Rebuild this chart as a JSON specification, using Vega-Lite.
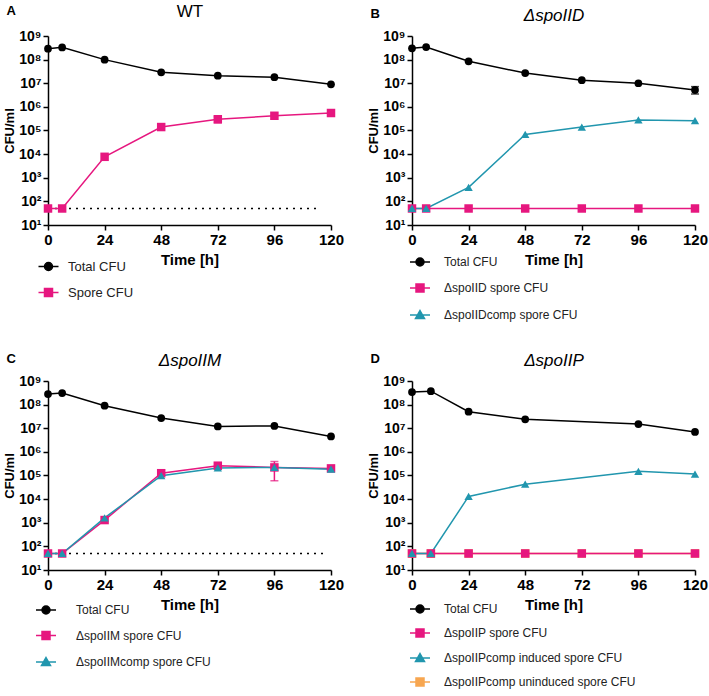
{
  "$schema": "https://vega.github.io/schema/vega-lite/v6.json",
  "padding": {"left": 3, "top": 2, "right": 2, "bottom": 2},
  "columns": 2,
  "spacing": {"row": 29, "column": 23},
  "resolve": {"scale": {"color": "independent"}},
  "datasets": {
    "lod": [{"limit": 50}],
    "A": [
      {"t": 0, "cfu": 290000000, "series": "Total CFU"},
      {"t": 6, "cfu": 330000000, "series": "Total CFU"},
      {"t": 24, "cfu": 100000000, "series": "Total CFU"},
      {"t": 48, "cfu": 29000000, "series": "Total CFU"},
      {"t": 72, "cfu": 21000000, "series": "Total CFU"},
      {"t": 96, "cfu": 18000000, "series": "Total CFU"},
      {"t": 120, "cfu": 9000000, "series": "Total CFU"},
      {"t": 0, "cfu": 50, "series": "Spore CFU"},
      {"t": 6, "cfu": 50, "series": "Spore CFU"},
      {"t": 24, "cfu": 7700, "series": "Spore CFU"},
      {"t": 48, "cfu": 140000, "series": "Spore CFU"},
      {"t": 72, "cfu": 300000, "series": "Spore CFU"},
      {"t": 96, "cfu": 420000, "series": "Spore CFU"},
      {"t": 120, "cfu": 550000, "series": "Spore CFU"}
    ],
    "Aerr": [{"t": 72, "lo": 210000, "hi": 380000, "series": "Spore CFU"}],
    "B": [
      {"t": 0, "cfu": 300000000, "series": "Total CFU"},
      {"t": 6, "cfu": 340000000, "series": "Total CFU"},
      {"t": 24, "cfu": 85000000, "series": "Total CFU"},
      {"t": 48, "cfu": 27000000, "series": "Total CFU"},
      {"t": 72, "cfu": 13500000, "series": "Total CFU"},
      {"t": 96, "cfu": 10000000, "series": "Total CFU"},
      {"t": 120, "cfu": 5200000, "series": "Total CFU"},
      {"t": 0, "cfu": 50, "series": "ΔspoIID spore CFU"},
      {"t": 6, "cfu": 50, "series": "ΔspoIID spore CFU"},
      {"t": 24, "cfu": 50, "series": "ΔspoIID spore CFU"},
      {"t": 48, "cfu": 50, "series": "ΔspoIID spore CFU"},
      {"t": 72, "cfu": 50, "series": "ΔspoIID spore CFU"},
      {"t": 96, "cfu": 50, "series": "ΔspoIID spore CFU"},
      {"t": 120, "cfu": 50, "series": "ΔspoIID spore CFU"},
      {"t": 0, "cfu": 50, "series": "ΔspoIIDcomp spore CFU"},
      {"t": 6, "cfu": 50, "series": "ΔspoIIDcomp spore CFU"},
      {"t": 24, "cfu": 390, "series": "ΔspoIIDcomp spore CFU"},
      {"t": 48, "cfu": 68000, "series": "ΔspoIIDcomp spore CFU"},
      {"t": 72, "cfu": 140000, "series": "ΔspoIIDcomp spore CFU"},
      {"t": 96, "cfu": 280000, "series": "ΔspoIIDcomp spore CFU"},
      {"t": 120, "cfu": 260000, "series": "ΔspoIIDcomp spore CFU"}
    ],
    "Berr": [{"t": 120, "lo": 3500000, "hi": 7200000, "series": "Total CFU"}],
    "C": [
      {"t": 0, "cfu": 280000000, "series": "Total CFU"},
      {"t": 6, "cfu": 310000000, "series": "Total CFU"},
      {"t": 24, "cfu": 90000000, "series": "Total CFU"},
      {"t": 48, "cfu": 27000000, "series": "Total CFU"},
      {"t": 72, "cfu": 12000000, "series": "Total CFU"},
      {"t": 96, "cfu": 12500000, "series": "Total CFU"},
      {"t": 120, "cfu": 4500000, "series": "Total CFU"},
      {"t": 0, "cfu": 50, "series": "ΔspoIIM spore CFU"},
      {"t": 6, "cfu": 50, "series": "ΔspoIIM spore CFU"},
      {"t": 24, "cfu": 1300, "series": "ΔspoIIM spore CFU"},
      {"t": 48, "cfu": 125000, "series": "ΔspoIIM spore CFU"},
      {"t": 72, "cfu": 260000, "series": "ΔspoIIM spore CFU"},
      {"t": 96, "cfu": 220000, "series": "ΔspoIIM spore CFU"},
      {"t": 120, "cfu": 200000, "series": "ΔspoIIM spore CFU"},
      {"t": 0, "cfu": 50, "series": "ΔspoIIMcomp spore CFU"},
      {"t": 6, "cfu": 50, "series": "ΔspoIIMcomp spore CFU"},
      {"t": 24, "cfu": 1600, "series": "ΔspoIIMcomp spore CFU"},
      {"t": 48, "cfu": 98000, "series": "ΔspoIIMcomp spore CFU"},
      {"t": 72, "cfu": 210000, "series": "ΔspoIIMcomp spore CFU"},
      {"t": 96, "cfu": 220000, "series": "ΔspoIIMcomp spore CFU"},
      {"t": 120, "cfu": 185000, "series": "ΔspoIIMcomp spore CFU"}
    ],
    "Cerr": [{"t": 96, "lo": 60000, "hi": 390000, "series": "ΔspoIIM spore CFU"}],
    "D": [
      {"t": 0, "cfu": 50, "series": "ΔspoIIPcomp uninduced spore CFU"},
      {"t": 8, "cfu": 50, "series": "ΔspoIIPcomp uninduced spore CFU"},
      {"t": 24, "cfu": 50, "series": "ΔspoIIPcomp uninduced spore CFU"},
      {"t": 48, "cfu": 50, "series": "ΔspoIIPcomp uninduced spore CFU"},
      {"t": 72, "cfu": 50, "series": "ΔspoIIPcomp uninduced spore CFU"},
      {"t": 96, "cfu": 50, "series": "ΔspoIIPcomp uninduced spore CFU"},
      {"t": 120, "cfu": 50, "series": "ΔspoIIPcomp uninduced spore CFU"},
      {"t": 0, "cfu": 340000000, "series": "Total CFU"},
      {"t": 8, "cfu": 370000000, "series": "Total CFU"},
      {"t": 24, "cfu": 50000000, "series": "Total CFU"},
      {"t": 48, "cfu": 24000000, "series": "Total CFU"},
      {"t": 96, "cfu": 15000000, "series": "Total CFU"},
      {"t": 120, "cfu": 7000000, "series": "Total CFU"},
      {"t": 0, "cfu": 50, "series": "ΔspoIIP spore CFU"},
      {"t": 8, "cfu": 50, "series": "ΔspoIIP spore CFU"},
      {"t": 24, "cfu": 50, "series": "ΔspoIIP spore CFU"},
      {"t": 48, "cfu": 50, "series": "ΔspoIIP spore CFU"},
      {"t": 72, "cfu": 50, "series": "ΔspoIIP spore CFU"},
      {"t": 96, "cfu": 50, "series": "ΔspoIIP spore CFU"},
      {"t": 120, "cfu": 50, "series": "ΔspoIIP spore CFU"},
      {"t": 0, "cfu": 50, "series": "ΔspoIIPcomp induced spore CFU"},
      {"t": 8, "cfu": 50, "series": "ΔspoIIPcomp induced spore CFU"},
      {"t": 24, "cfu": 13000, "series": "ΔspoIIPcomp induced spore CFU"},
      {"t": 48, "cfu": 43000, "series": "ΔspoIIPcomp induced spore CFU"},
      {"t": 96, "cfu": 150000, "series": "ΔspoIIPcomp induced spore CFU"},
      {"t": 120, "cfu": 115000, "series": "ΔspoIIPcomp induced spore CFU"}
    ]
  },
  "concat": [
    {
      "width": 283, "height": 189,
      "title": {"text": "A", "anchor": "start", "frame": "bounds", "baseline": "middle", "dy": 22, "dx": 3, "offset": 0},
      "data": {"name": "A"},
      "resolve": {"axis": {"x": "independent"}},
      "layer": [
        {"data": {"name": "lod"}, "mark": {"type": "rule", "strokeDash": [2, 5], "strokeWidth": 1.5, "color": "#000000"},
         "encoding": {"x": {"datum": 0, "type": "quantitative", "scale": {"domain": [0, 120], "nice": false, "zero": false}, "axis": null}, "x2": {"datum": 114},
           "y": {"field": "limit", "type": "quantitative", "scale": {"type": "log", "domain": [10, 1000000000], "nice": false}, "axis": {"values": [10, 100, 1000, 10000, 100000, 1000000, 10000000, 100000000, 1000000000], "labelExpr": "'10' + ['⁰','¹','²','³','⁴','⁵','⁶','⁷','⁸','⁹'][round(log(datum.value)/LN10)]", "title": "CFU/ml"}}}},
        {"data": {"name": "Aerr"}, "mark": {"type": "errorbar", "ticks": true, "thickness": 1.5, "size": 8, "color": "#E6177F"},
         "encoding": {"x": {"field": "t", "type": "quantitative", "scale": {"domain": [0, 120], "nice": false, "zero": false}, "axis": null},
           "y": {"field": "lo", "type": "quantitative", "scale": {"type": "log", "domain": [10, 1000000000], "nice": false}, "axis": {"values": [10, 100, 1000, 10000, 100000, 1000000, 10000000, 100000000, 1000000000], "labelExpr": "'10' + ['⁰','¹','²','³','⁴','⁵','⁶','⁷','⁸','⁹'][round(log(datum.value)/LN10)]", "title": "CFU/ml"}}, "y2": {"field": "hi"}}},
        {"transform": [{"filter": "datum.series == 'Total CFU'"}], "mark": {"type": "line", "strokeWidth": 1.5, "color": "#000000"},
         "encoding": {"x": {"field": "t", "type": "quantitative", "scale": {"domain": [0, 120], "nice": false, "zero": false}, "axis": {"values": [0, 24, 48, 72, 96, 120], "title": "Time [h]"}},
           "y": {"field": "cfu", "type": "quantitative", "scale": {"type": "log", "domain": [10, 1000000000], "nice": false}, "axis": {"values": [10, 100, 1000, 10000, 100000, 1000000, 10000000, 100000000, 1000000000], "labelExpr": "'10' + ['⁰','¹','²','³','⁴','⁵','⁶','⁷','⁸','⁹'][round(log(datum.value)/LN10)]", "title": "CFU/ml"}}}},
        {"transform": [{"filter": "datum.series == 'Spore CFU'"}], "mark": {"type": "line", "strokeWidth": 1.5, "color": "#E6177F"},
         "encoding": {"x": {"field": "t", "type": "quantitative", "scale": {"domain": [0, 120], "nice": false, "zero": false}, "axis": null},
           "y": {"field": "cfu", "type": "quantitative", "scale": {"type": "log", "domain": [10, 1000000000], "nice": false}, "axis": {"values": [10, 100, 1000, 10000, 100000, 1000000, 10000000, 100000000, 1000000000], "labelExpr": "'10' + ['⁰','¹','²','³','⁴','⁵','⁶','⁷','⁸','⁹'][round(log(datum.value)/LN10)]", "title": "CFU/ml"}}}},
        {"transform": [{"filter": "datum.series == 'Total CFU'"}], "mark": {"type": "point", "filled": true, "opacity": 1, "size": 60, "shape": "circle"},
         "encoding": {"x": {"field": "t", "type": "quantitative", "scale": {"domain": [0, 120], "nice": false, "zero": false}, "axis": {"orient": "top", "title": "WT", "labels": false, "ticks": false, "domain": false, "titleFontSize": 17, "titleFontWeight": "normal", "titlePadding": 16}},
           "y": {"field": "cfu", "type": "quantitative", "scale": {"type": "log", "domain": [10, 1000000000], "nice": false}, "axis": {"values": [10, 100, 1000, 10000, 100000, 1000000, 10000000, 100000000, 1000000000], "labelExpr": "'10' + ['⁰','¹','²','³','⁴','⁵','⁶','⁷','⁸','⁹'][round(log(datum.value)/LN10)]", "title": "CFU/ml"}},
           "color": {"field": "series", "type": "nominal", "scale": {"domain": ["Total CFU", "Spore CFU"], "range": ["#000000", "#E6177F"]},
             "legend": {"title": null, "orient": "none", "legendX": -6, "legendY": 224, "labelOffset": 13, "labelFontSize": 13, "rowPadding": 11,
               "symbolSize": 100, "symbolStrokeWidth": 1.5,
               "symbolType": {"expr": "datum.value == 'Total CFU' ? 'M-2,0H2M-0.8,0A0.8,0.8,0,1,1,0.8,0A0.8,0.8,0,1,1,-0.8,0Z' : 'M-2,0H2M-0.8,-0.8H0.8V0.8H-0.8Z'"},
               "symbolStrokeColor": {"expr": "datum.value == 'Total CFU' ? '#000000' : '#E6177F'"}}}}},
        {"transform": [{"filter": "datum.series == 'Spore CFU'"}], "mark": {"type": "point", "filled": true, "opacity": 1, "size": 72, "shape": "square", "color": "#E6177F"},
         "encoding": {"x": {"field": "t", "type": "quantitative", "scale": {"domain": [0, 120], "nice": false, "zero": false}, "axis": null},
           "y": {"field": "cfu", "type": "quantitative", "scale": {"type": "log", "domain": [10, 1000000000], "nice": false}, "axis": {"values": [10, 100, 1000, 10000, 100000, 1000000, 10000000, 100000000, 1000000000], "labelExpr": "'10' + ['⁰','¹','²','³','⁴','⁵','⁶','⁷','⁸','⁹'][round(log(datum.value)/LN10)]", "title": "CFU/ml"}}}}
      ]
    },
    {
      "width": 283, "height": 189,
      "title": {"text": "B", "anchor": "start", "frame": "bounds", "baseline": "middle", "dy": 21, "dx": 3, "offset": 0},
      "data": {"name": "B"},
      "resolve": {"axis": {"x": "independent"}},
      "layer": [
        {"data": {"name": "Berr"}, "mark": {"type": "errorbar", "ticks": true, "thickness": 1.5, "size": 8, "color": "#000000"},
         "encoding": {"x": {"field": "t", "type": "quantitative", "scale": {"domain": [0, 120], "nice": false, "zero": false}, "axis": null},
           "y": {"field": "lo", "type": "quantitative", "scale": {"type": "log", "domain": [10, 1000000000], "nice": false}, "axis": {"values": [10, 100, 1000, 10000, 100000, 1000000, 10000000, 100000000, 1000000000], "labelExpr": "'10' + ['⁰','¹','²','³','⁴','⁵','⁶','⁷','⁸','⁹'][round(log(datum.value)/LN10)]", "title": "CFU/ml"}}, "y2": {"field": "hi"}}},
        {"transform": [{"filter": "datum.series == 'Total CFU'"}], "mark": {"type": "line", "strokeWidth": 1.5, "color": "#000000"},
         "encoding": {"x": {"field": "t", "type": "quantitative", "scale": {"domain": [0, 120], "nice": false, "zero": false}, "axis": {"values": [0, 24, 48, 72, 96, 120], "title": "Time [h]"}},
           "y": {"field": "cfu", "type": "quantitative", "scale": {"type": "log", "domain": [10, 1000000000], "nice": false}, "axis": {"values": [10, 100, 1000, 10000, 100000, 1000000, 10000000, 100000000, 1000000000], "labelExpr": "'10' + ['⁰','¹','²','³','⁴','⁵','⁶','⁷','⁸','⁹'][round(log(datum.value)/LN10)]", "title": "CFU/ml"}}}},
        {"transform": [{"filter": "datum.series == 'ΔspoIID spore CFU'"}], "mark": {"type": "line", "strokeWidth": 1.5, "color": "#E6177F"},
         "encoding": {"x": {"field": "t", "type": "quantitative", "scale": {"domain": [0, 120], "nice": false, "zero": false}, "axis": null},
           "y": {"field": "cfu", "type": "quantitative", "scale": {"type": "log", "domain": [10, 1000000000], "nice": false}, "axis": {"values": [10, 100, 1000, 10000, 100000, 1000000, 10000000, 100000000, 1000000000], "labelExpr": "'10' + ['⁰','¹','²','³','⁴','⁵','⁶','⁷','⁸','⁹'][round(log(datum.value)/LN10)]", "title": "CFU/ml"}}}},
        {"transform": [{"filter": "datum.series == 'ΔspoIIDcomp spore CFU'"}], "mark": {"type": "line", "strokeWidth": 1.5, "color": "#2196AE"},
         "encoding": {"x": {"field": "t", "type": "quantitative", "scale": {"domain": [0, 120], "nice": false, "zero": false}, "axis": null},
           "y": {"field": "cfu", "type": "quantitative", "scale": {"type": "log", "domain": [10, 1000000000], "nice": false}, "axis": {"values": [10, 100, 1000, 10000, 100000, 1000000, 10000000, 100000000, 1000000000], "labelExpr": "'10' + ['⁰','¹','²','³','⁴','⁵','⁶','⁷','⁸','⁹'][round(log(datum.value)/LN10)]", "title": "CFU/ml"}}}},
        {"transform": [{"filter": "datum.series == 'Total CFU'"}], "mark": {"type": "point", "filled": true, "opacity": 1, "size": 60, "shape": "circle"},
         "encoding": {"x": {"field": "t", "type": "quantitative", "scale": {"domain": [0, 120], "nice": false, "zero": false}, "axis": {"orient": "top", "title": "ΔspoIID", "labels": false, "ticks": false, "domain": false, "titleFontSize": 17, "titleFontWeight": "normal", "titleFontStyle": "italic", "titlePadding": 12}},
           "y": {"field": "cfu", "type": "quantitative", "scale": {"type": "log", "domain": [10, 1000000000], "nice": false}, "axis": {"values": [10, 100, 1000, 10000, 100000, 1000000, 10000000, 100000000, 1000000000], "labelExpr": "'10' + ['⁰','¹','²','³','⁴','⁵','⁶','⁷','⁸','⁹'][round(log(datum.value)/LN10)]", "title": "CFU/ml"}},
           "color": {"field": "series", "type": "nominal", "scale": {"domain": ["Total CFU", "ΔspoIID spore CFU", "ΔspoIIDcomp spore CFU"], "range": ["#000000", "#E6177F", "#2196AE"]},
             "legend": {"title": null, "orient": "none", "legendX": 2, "legendY": 220, "labelOffset": 18, "labelFontSize": 12, "rowPadding": 12,
               "symbolSize": 100, "symbolStrokeWidth": 1.5,
               "symbolType": {"expr": "datum.value == 'Total CFU' ? 'M-2,0H2M-0.8,0A0.8,0.8,0,1,1,0.8,0A0.8,0.8,0,1,1,-0.8,0Z' : datum.value == 'ΔspoIID spore CFU' ? 'M-2,0H2M-0.8,-0.8H0.8V0.8H-0.8Z' : 'M-2,0H2M0,-0.9L0.9,0.7H-0.9Z'"},
               "symbolStrokeColor": {"expr": "datum.value == 'Total CFU' ? '#000000' : datum.value == 'ΔspoIID spore CFU' ? '#E6177F' : '#2196AE'"}}}}},
        {"transform": [{"filter": "datum.series == 'ΔspoIID spore CFU'"}], "mark": {"type": "point", "filled": true, "opacity": 1, "size": 72, "shape": "square", "color": "#E6177F"},
         "encoding": {"x": {"field": "t", "type": "quantitative", "scale": {"domain": [0, 120], "nice": false, "zero": false}, "axis": null},
           "y": {"field": "cfu", "type": "quantitative", "scale": {"type": "log", "domain": [10, 1000000000], "nice": false}, "axis": {"values": [10, 100, 1000, 10000, 100000, 1000000, 10000000, 100000000, 1000000000], "labelExpr": "'10' + ['⁰','¹','²','³','⁴','⁵','⁶','⁷','⁸','⁹'][round(log(datum.value)/LN10)]", "title": "CFU/ml"}}}},
        {"transform": [{"filter": "datum.series == 'ΔspoIIDcomp spore CFU'"}], "mark": {"type": "point", "filled": true, "opacity": 1, "size": 70, "shape": "triangle-up", "color": "#2196AE"},
         "encoding": {"x": {"field": "t", "type": "quantitative", "scale": {"domain": [0, 120], "nice": false, "zero": false}, "axis": null},
           "y": {"field": "cfu", "type": "quantitative", "scale": {"type": "log", "domain": [10, 1000000000], "nice": false}, "axis": {"values": [10, 100, 1000, 10000, 100000, 1000000, 10000000, 100000000, 1000000000], "labelExpr": "'10' + ['⁰','¹','²','³','⁴','⁵','⁶','⁷','⁸','⁹'][round(log(datum.value)/LN10)]", "title": "CFU/ml"}}}}
      ]
    },
    {
      "width": 283, "height": 189,
      "title": {"text": "C", "anchor": "start", "frame": "bounds", "baseline": "middle", "dy": 21, "dx": 3, "offset": 0},
      "data": {"name": "C"},
      "resolve": {"axis": {"x": "independent"}},
      "layer": [
        {"data": {"name": "lod"}, "mark": {"type": "rule", "strokeDash": [2, 5], "strokeWidth": 1.5, "color": "#000000"},
         "encoding": {"x": {"datum": 0, "type": "quantitative", "scale": {"domain": [0, 120], "nice": false, "zero": false}, "axis": null}, "x2": {"datum": 118},
           "y": {"field": "limit", "type": "quantitative", "scale": {"type": "log", "domain": [10, 1000000000], "nice": false}, "axis": {"values": [10, 100, 1000, 10000, 100000, 1000000, 10000000, 100000000, 1000000000], "labelExpr": "'10' + ['⁰','¹','²','³','⁴','⁵','⁶','⁷','⁸','⁹'][round(log(datum.value)/LN10)]", "title": "CFU/ml"}}}},
        {"data": {"name": "Cerr"}, "mark": {"type": "errorbar", "ticks": true, "thickness": 1.5, "size": 8, "color": "#E6177F"},
         "encoding": {"x": {"field": "t", "type": "quantitative", "scale": {"domain": [0, 120], "nice": false, "zero": false}, "axis": null},
           "y": {"field": "lo", "type": "quantitative", "scale": {"type": "log", "domain": [10, 1000000000], "nice": false}, "axis": {"values": [10, 100, 1000, 10000, 100000, 1000000, 10000000, 100000000, 1000000000], "labelExpr": "'10' + ['⁰','¹','²','³','⁴','⁵','⁶','⁷','⁸','⁹'][round(log(datum.value)/LN10)]", "title": "CFU/ml"}}, "y2": {"field": "hi"}}},
        {"transform": [{"filter": "datum.series == 'Total CFU'"}], "mark": {"type": "line", "strokeWidth": 1.5, "color": "#000000"},
         "encoding": {"x": {"field": "t", "type": "quantitative", "scale": {"domain": [0, 120], "nice": false, "zero": false}, "axis": {"values": [0, 24, 48, 72, 96, 120], "title": "Time [h]"}},
           "y": {"field": "cfu", "type": "quantitative", "scale": {"type": "log", "domain": [10, 1000000000], "nice": false}, "axis": {"values": [10, 100, 1000, 10000, 100000, 1000000, 10000000, 100000000, 1000000000], "labelExpr": "'10' + ['⁰','¹','²','³','⁴','⁵','⁶','⁷','⁸','⁹'][round(log(datum.value)/LN10)]", "title": "CFU/ml"}}}},
        {"transform": [{"filter": "datum.series == 'ΔspoIIM spore CFU'"}], "mark": {"type": "line", "strokeWidth": 1.5, "color": "#E6177F"},
         "encoding": {"x": {"field": "t", "type": "quantitative", "scale": {"domain": [0, 120], "nice": false, "zero": false}, "axis": null},
           "y": {"field": "cfu", "type": "quantitative", "scale": {"type": "log", "domain": [10, 1000000000], "nice": false}, "axis": {"values": [10, 100, 1000, 10000, 100000, 1000000, 10000000, 100000000, 1000000000], "labelExpr": "'10' + ['⁰','¹','²','³','⁴','⁵','⁶','⁷','⁸','⁹'][round(log(datum.value)/LN10)]", "title": "CFU/ml"}}}},
        {"transform": [{"filter": "datum.series == 'ΔspoIIMcomp spore CFU'"}], "mark": {"type": "line", "strokeWidth": 1.5, "color": "#2196AE"},
         "encoding": {"x": {"field": "t", "type": "quantitative", "scale": {"domain": [0, 120], "nice": false, "zero": false}, "axis": null},
           "y": {"field": "cfu", "type": "quantitative", "scale": {"type": "log", "domain": [10, 1000000000], "nice": false}, "axis": {"values": [10, 100, 1000, 10000, 100000, 1000000, 10000000, 100000000, 1000000000], "labelExpr": "'10' + ['⁰','¹','²','³','⁴','⁵','⁶','⁷','⁸','⁹'][round(log(datum.value)/LN10)]", "title": "CFU/ml"}}}},
        {"transform": [{"filter": "datum.series == 'Total CFU'"}], "mark": {"type": "point", "filled": true, "opacity": 1, "size": 60, "shape": "circle"},
         "encoding": {"x": {"field": "t", "type": "quantitative", "scale": {"domain": [0, 120], "nice": false, "zero": false}, "axis": {"orient": "top", "title": "ΔspoIIM", "labels": false, "ticks": false, "domain": false, "titleFontSize": 17, "titleFontWeight": "normal", "titleFontStyle": "italic", "titlePadding": 12}},
           "y": {"field": "cfu", "type": "quantitative", "scale": {"type": "log", "domain": [10, 1000000000], "nice": false}, "axis": {"values": [10, 100, 1000, 10000, 100000, 1000000, 10000000, 100000000, 1000000000], "labelExpr": "'10' + ['⁰','¹','²','³','⁴','⁵','⁶','⁷','⁸','⁹'][round(log(datum.value)/LN10)]", "title": "CFU/ml"}},
           "color": {"field": "series", "type": "nominal", "scale": {"domain": ["Total CFU", "ΔspoIIM spore CFU", "ΔspoIIMcomp spore CFU"], "range": ["#000000", "#E6177F", "#2196AE"]},
             "legend": {"title": null, "orient": "none", "legendX": -8, "legendY": 223, "labelOffset": 24, "labelFontSize": 12, "rowPadding": 11.5,
               "symbolSize": 100, "symbolStrokeWidth": 1.5,
               "symbolType": {"expr": "datum.value == 'Total CFU' ? 'M-2,0H2M-0.8,0A0.8,0.8,0,1,1,0.8,0A0.8,0.8,0,1,1,-0.8,0Z' : datum.value == 'ΔspoIIM spore CFU' ? 'M-2,0H2M-0.8,-0.8H0.8V0.8H-0.8Z' : 'M-2,0H2M0,-0.9L0.9,0.7H-0.9Z'"},
               "symbolStrokeColor": {"expr": "datum.value == 'Total CFU' ? '#000000' : datum.value == 'ΔspoIIM spore CFU' ? '#E6177F' : '#2196AE'"}}}}},
        {"transform": [{"filter": "datum.series == 'ΔspoIIM spore CFU'"}], "mark": {"type": "point", "filled": true, "opacity": 1, "size": 72, "shape": "square", "color": "#E6177F"},
         "encoding": {"x": {"field": "t", "type": "quantitative", "scale": {"domain": [0, 120], "nice": false, "zero": false}, "axis": null},
           "y": {"field": "cfu", "type": "quantitative", "scale": {"type": "log", "domain": [10, 1000000000], "nice": false}, "axis": {"values": [10, 100, 1000, 10000, 100000, 1000000, 10000000, 100000000, 1000000000], "labelExpr": "'10' + ['⁰','¹','²','³','⁴','⁵','⁶','⁷','⁸','⁹'][round(log(datum.value)/LN10)]", "title": "CFU/ml"}}}},
        {"transform": [{"filter": "datum.series == 'ΔspoIIMcomp spore CFU'"}], "mark": {"type": "point", "filled": true, "opacity": 1, "size": 70, "shape": "triangle-up", "color": "#2196AE"},
         "encoding": {"x": {"field": "t", "type": "quantitative", "scale": {"domain": [0, 120], "nice": false, "zero": false}, "axis": null},
           "y": {"field": "cfu", "type": "quantitative", "scale": {"type": "log", "domain": [10, 1000000000], "nice": false}, "axis": {"values": [10, 100, 1000, 10000, 100000, 1000000, 10000000, 100000000, 1000000000], "labelExpr": "'10' + ['⁰','¹','²','³','⁴','⁵','⁶','⁷','⁸','⁹'][round(log(datum.value)/LN10)]", "title": "CFU/ml"}}}}
      ]
    },
    {
      "width": 283, "height": 189,
      "title": {"text": "D", "anchor": "start", "frame": "bounds", "baseline": "middle", "dy": 21, "dx": 3, "offset": 0},
      "data": {"name": "D"},
      "resolve": {"axis": {"x": "independent"}},
      "layer": [
        {"transform": [{"filter": "datum.series == 'ΔspoIIPcomp uninduced spore CFU'"}], "mark": {"type": "line", "strokeWidth": 1.5, "color": "#F7A650"},
         "encoding": {"x": {"field": "t", "type": "quantitative", "scale": {"domain": [0, 120], "nice": false, "zero": false}, "axis": null},
           "y": {"field": "cfu", "type": "quantitative", "scale": {"type": "log", "domain": [10, 1000000000], "nice": false}, "axis": {"values": [10, 100, 1000, 10000, 100000, 1000000, 10000000, 100000000, 1000000000], "labelExpr": "'10' + ['⁰','¹','²','³','⁴','⁵','⁶','⁷','⁸','⁹'][round(log(datum.value)/LN10)]", "title": "CFU/ml"}}}},
        {"transform": [{"filter": "datum.series == 'ΔspoIIPcomp uninduced spore CFU'"}], "mark": {"type": "point", "filled": true, "opacity": 1, "size": 72, "shape": "square", "color": "#F7A650"},
         "encoding": {"x": {"field": "t", "type": "quantitative", "scale": {"domain": [0, 120], "nice": false, "zero": false}, "axis": null},
           "y": {"field": "cfu", "type": "quantitative", "scale": {"type": "log", "domain": [10, 1000000000], "nice": false}, "axis": {"values": [10, 100, 1000, 10000, 100000, 1000000, 10000000, 100000000, 1000000000], "labelExpr": "'10' + ['⁰','¹','²','³','⁴','⁵','⁶','⁷','⁸','⁹'][round(log(datum.value)/LN10)]", "title": "CFU/ml"}}}},
        {"transform": [{"filter": "datum.series == 'Total CFU'"}], "mark": {"type": "line", "strokeWidth": 1.5, "color": "#000000"},
         "encoding": {"x": {"field": "t", "type": "quantitative", "scale": {"domain": [0, 120], "nice": false, "zero": false}, "axis": {"values": [0, 24, 48, 72, 96, 120], "title": "Time [h]"}},
           "y": {"field": "cfu", "type": "quantitative", "scale": {"type": "log", "domain": [10, 1000000000], "nice": false}, "axis": {"values": [10, 100, 1000, 10000, 100000, 1000000, 10000000, 100000000, 1000000000], "labelExpr": "'10' + ['⁰','¹','²','³','⁴','⁵','⁶','⁷','⁸','⁹'][round(log(datum.value)/LN10)]", "title": "CFU/ml"}}}},
        {"transform": [{"filter": "datum.series == 'ΔspoIIP spore CFU'"}], "mark": {"type": "line", "strokeWidth": 1.5, "color": "#E6177F"},
         "encoding": {"x": {"field": "t", "type": "quantitative", "scale": {"domain": [0, 120], "nice": false, "zero": false}, "axis": null},
           "y": {"field": "cfu", "type": "quantitative", "scale": {"type": "log", "domain": [10, 1000000000], "nice": false}, "axis": {"values": [10, 100, 1000, 10000, 100000, 1000000, 10000000, 100000000, 1000000000], "labelExpr": "'10' + ['⁰','¹','²','³','⁴','⁵','⁶','⁷','⁸','⁹'][round(log(datum.value)/LN10)]", "title": "CFU/ml"}}}},
        {"transform": [{"filter": "datum.series == 'ΔspoIIPcomp induced spore CFU'"}], "mark": {"type": "line", "strokeWidth": 1.5, "color": "#2196AE"},
         "encoding": {"x": {"field": "t", "type": "quantitative", "scale": {"domain": [0, 120], "nice": false, "zero": false}, "axis": null},
           "y": {"field": "cfu", "type": "quantitative", "scale": {"type": "log", "domain": [10, 1000000000], "nice": false}, "axis": {"values": [10, 100, 1000, 10000, 100000, 1000000, 10000000, 100000000, 1000000000], "labelExpr": "'10' + ['⁰','¹','²','³','⁴','⁵','⁶','⁷','⁸','⁹'][round(log(datum.value)/LN10)]", "title": "CFU/ml"}}}},
        {"transform": [{"filter": "datum.series == 'Total CFU'"}], "mark": {"type": "point", "filled": true, "opacity": 1, "size": 60, "shape": "circle"},
         "encoding": {"x": {"field": "t", "type": "quantitative", "scale": {"domain": [0, 120], "nice": false, "zero": false}, "axis": {"orient": "top", "title": "ΔspoIIP", "labels": false, "ticks": false, "domain": false, "titleFontSize": 17, "titleFontWeight": "normal", "titleFontStyle": "italic", "titlePadding": 12}},
           "y": {"field": "cfu", "type": "quantitative", "scale": {"type": "log", "domain": [10, 1000000000], "nice": false}, "axis": {"values": [10, 100, 1000, 10000, 100000, 1000000, 10000000, 100000000, 1000000000], "labelExpr": "'10' + ['⁰','¹','²','³','⁴','⁵','⁶','⁷','⁸','⁹'][round(log(datum.value)/LN10)]", "title": "CFU/ml"}},
           "color": {"field": "series", "type": "nominal", "scale": {"domain": ["Total CFU", "ΔspoIIP spore CFU", "ΔspoIIPcomp induced spore CFU", "ΔspoIIPcomp uninduced spore CFU"], "range": ["#000000", "#E6177F", "#2196AE", "#F7A650"]},
             "legend": {"title": null, "orient": "none", "legendX": 2, "legendY": 222, "labelOffset": 18, "labelFontSize": 12, "rowPadding": 10,
               "symbolSize": 100, "symbolStrokeWidth": 1.5,
               "symbolType": {"expr": "datum.value == 'Total CFU' ? 'M-2,0H2M-0.8,0A0.8,0.8,0,1,1,0.8,0A0.8,0.8,0,1,1,-0.8,0Z' : datum.value == 'ΔspoIIPcomp induced spore CFU' ? 'M-2,0H2M0,-0.9L0.9,0.7H-0.9Z' : 'M-2,0H2M-0.8,-0.8H0.8V0.8H-0.8Z'"},
               "symbolStrokeColor": {"expr": "datum.value == 'Total CFU' ? '#000000' : datum.value == 'ΔspoIIP spore CFU' ? '#E6177F' : datum.value == 'ΔspoIIPcomp induced spore CFU' ? '#2196AE' : '#F7A650'"}}}}},
        {"transform": [{"filter": "datum.series == 'ΔspoIIP spore CFU'"}], "mark": {"type": "point", "filled": true, "opacity": 1, "size": 72, "shape": "square", "color": "#E6177F"},
         "encoding": {"x": {"field": "t", "type": "quantitative", "scale": {"domain": [0, 120], "nice": false, "zero": false}, "axis": null},
           "y": {"field": "cfu", "type": "quantitative", "scale": {"type": "log", "domain": [10, 1000000000], "nice": false}, "axis": {"values": [10, 100, 1000, 10000, 100000, 1000000, 10000000, 100000000, 1000000000], "labelExpr": "'10' + ['⁰','¹','²','³','⁴','⁵','⁶','⁷','⁸','⁹'][round(log(datum.value)/LN10)]", "title": "CFU/ml"}}}},
        {"transform": [{"filter": "datum.series == 'ΔspoIIPcomp induced spore CFU'"}], "mark": {"type": "point", "filled": true, "opacity": 1, "size": 70, "shape": "triangle-up", "color": "#2196AE"},
         "encoding": {"x": {"field": "t", "type": "quantitative", "scale": {"domain": [0, 120], "nice": false, "zero": false}, "axis": null},
           "y": {"field": "cfu", "type": "quantitative", "scale": {"type": "log", "domain": [10, 1000000000], "nice": false}, "axis": {"values": [10, 100, 1000, 10000, 100000, 1000000, 10000000, 100000000, 1000000000], "labelExpr": "'10' + ['⁰','¹','²','³','⁴','⁵','⁶','⁷','⁸','⁹'][round(log(datum.value)/LN10)]", "title": "CFU/ml"}}}}
      ]
    }
  ],
  "config": {
    "font": "Liberation Sans",
    "view": {"stroke": null},
    "axis": {"grid": false, "domainColor": "#000000", "domainWidth": 1.5, "tickColor": "#000000", "tickWidth": 1.5, "tickSize": 5, "labelColor": "#000000", "labelFontWeight": "bold", "labelFontSize": 15, "labelPadding": 2, "titleColor": "#000000", "titleFontWeight": "bold"},
    "axisX": {"titleFontSize": 15, "titlePadding": 5, "labelFlush": false},
    "axisY": {"titleFontSize": 13, "titlePadding": 2, "labelFontSize": 14},
    "legend": {"padding": 0, "labelColor": "#222222", "labelLimit": 400},
    "title": {"fontSize": 13, "fontWeight": "bold", "color": "#000000"}
  }
}
